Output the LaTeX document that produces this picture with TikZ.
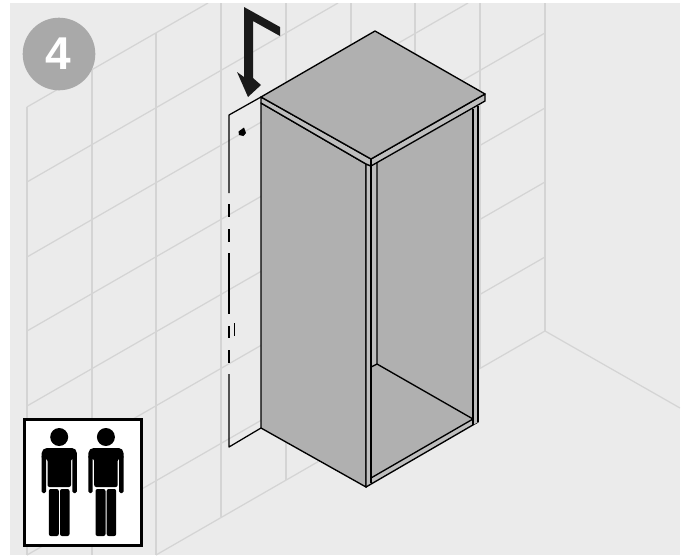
\documentclass[tikz,border=0pt]{standalone}
\usepackage{fontspec}
\setmainfont{Liberation Sans}
\definecolor{bgc}{HTML}{EBEBEB}
\definecolor{gridc}{HTML}{D4D4D4}
\definecolor{facec}{HTML}{B0B0B0}
\definecolor{stripc}{HTML}{BEBEBE}
\definecolor{badge}{HTML}{A9A9A9}
\definecolor{arrowc}{HTML}{1A1A1A}
\tikzset{
  gridline/.style={draw=gridc,line width=1.25pt},
  ink/.style={draw=black,line width=1.35pt,line join=round},
  thinink/.style={draw=black,line width=1.25pt},
  face/.style={ink,fill=facec},
  strip/.style={ink,fill=stripc},
}
\begin{document}
\begin{tikzpicture}[x=1pt,y=-1pt]
\useasboundingbox (0,0) rectangle (690,555);
\fill[white] (0,0) rectangle (690,555);
\fill[bgc] (10,3) rectangle (680,555);
\begin{scope}
\clip (10,3) rectangle (680,555);
% wall tiles: horizontal courses
\draw[gridline] (27,107) -- (208,3);
\draw[gridline] (27,182) -- (338,3);
\draw[gridline] (27,257) -- (468,3);
\draw[gridline] (27,331) -- (545,33);
\draw[gridline] (27,406) -- (545,108);
\draw[gridline] (27,480) -- (545,182);
\draw[gridline] (27,555) -- (545,257);
% floor lines
\draw[gridline] (156,555) -- (545,331) -- (680,408);
% wall tiles: verticals
\draw[gridline] (27,107) -- (27,555);
\draw[gridline] (92,70) -- (92,555);
\draw[gridline] (156,33) -- (156,555);
\draw[gridline] (221,3) -- (221,517);
\draw[gridline] (286,3) -- (286,480);
\draw[gridline] (351,3) -- (351,443);
\draw[gridline] (415,3) -- (415,406);
\draw[gridline] (480,3) -- (480,369);
\draw[gridline] (545,3) -- (545,331);
\end{scope}
% step badge
\fill[badge] (59,54) circle (36.3);
\node[text=white,font=\bfseries\fontsize{46}{46}\selectfont,inner sep=0pt] (stepnum) at (58,54) {4};
% door panel outline, broken
\draw[thinink,line join=round] (261,97) -- (229,115) -- (229,193);
\draw[thinink] (229,204) -- (229,217);
\draw[thinink] (229,229) -- (229,242);
\draw[thinink] (229,253) -- (229,314);
\draw[thinink] (229,326) -- (229,338);
\draw[thinink] (229,350) -- (229,363);
\draw[thinink,line join=round] (229,374) -- (229,447) -- (261,428);
\draw[thinink] (234.5,323) -- (234.5,336);
\fill[black] (244,127.5) -- (246,133) -- (243.5,136) -- (239,135) -- (238.5,131.5) -- cycle;
% arrow
\fill[arrowc] (244,7) -- (280,27) -- (280,36) -- (253,21) -- (253,78) -- (261,85) -- (248,97) -- (237,72) -- (244,77) -- cycle;
% cabinet interior
\fill[facec] (371,166) -- (478,106) -- (478,422) -- (371,484) -- cycle;
% left side
\draw[face] (261,103) -- (366,164) -- (366,487) -- (261,428) -- cycle;
% front post
\draw[strip] (366,164) -- (371,166) -- (371,483) -- (366,487) -- cycle;
\fill[stripc] (371,166) -- (377,163) -- (377,364) -- (371,367) -- cycle;
\draw[ink] (377,163) -- (377,364) -- (371,367);
% floor of cabinet
\draw[ink] (377,364) -- (473,419);
% front floor strip
\draw[strip] (371,478) -- (473,419) -- (478,422) -- (366,487);
\draw[ink] (371,166) -- (371,483);
% right post
\fill[stripc] (473,109) -- (478,106) -- (478,422) -- (473,425) -- cycle;
\draw[ink] (473,109) -- (473,425);
\draw[ink] (478,106) -- (478,422);
% top slab
\draw[strip] (261,97) -- (261,103) -- (366,164) -- (371,166) -- (485,101) -- (485,94) -- (371,159) -- cycle;
\draw[face] (261,97) -- (375,31) -- (485,94) -- (371,159) -- cycle;
\draw[ink] (371,159) -- (371,166);
% two-person icon
\draw[draw=black,line width=3pt,fill=white] (24,419) rectangle (141,545.5);
\foreach \dx in {0,46.7}{
  \begin{scope}[xshift=\dx pt]
    \fill[black] (59.2,437) circle (9);
    % shoulders and torso
    \fill[black,rounded corners=2pt] (45,448) -- (74,448) -- (76.8,451) -- (76.8,459) -- (71,459) -- (71,487) -- (47.5,487) -- (47.5,459) -- (41.7,459) -- (41.7,451) -- cycle;
    % arms
    \fill[black,rounded corners=1.5pt] (41.7,455) -- (46,455) -- (46,493) -- (41.7,493) -- cycle;
    \fill[black,rounded corners=1.5pt] (72.4,455) -- (76.8,455) -- (76.8,493) -- (72.4,493) -- cycle;
    % legs
    \fill[black,rounded corners=2pt] (48.8,489) -- (58.8,489) -- (58.8,536) -- (48.8,536) -- cycle;
    \fill[black,rounded corners=2pt] (60,489) -- (69.5,489) -- (69.5,536) -- (60,536) -- cycle;
  \end{scope}
}
\end{tikzpicture}
\end{document}
